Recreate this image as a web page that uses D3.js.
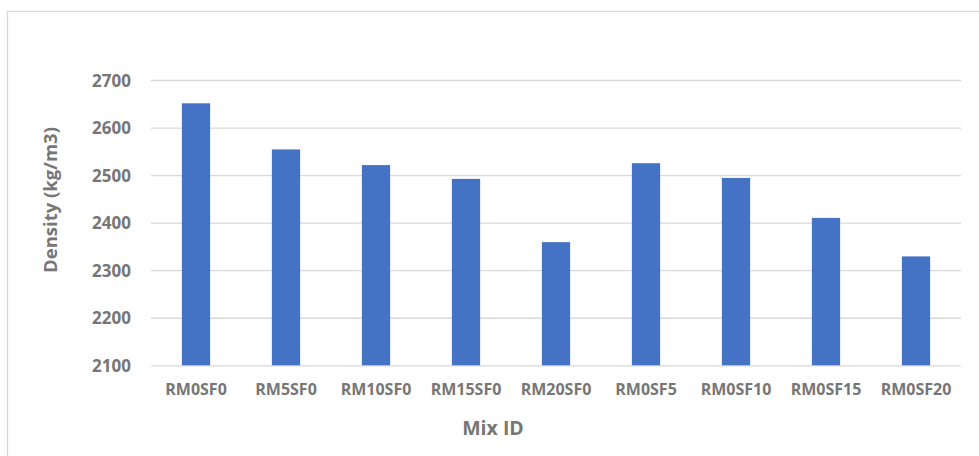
<!DOCTYPE html>
<html>
<head>
<meta charset="utf-8">
<script src="https://cdn.jsdelivr.net/npm/d3@7"></script>
<style>
  html, body { margin: 0; padding: 0; background: #fff; }
  svg { display: block; }
  text { font-family: "Open Sans", sans-serif; font-weight: bold; fill: #767676; }
</style>
</head>
<body>
<svg id="chart" width="979" height="456"></svg>
<script>
const categories = ["RM0SF0", "RM5SF0", "RM10SF0", "RM15SF0", "RM20SF0", "RM0SF5", "RM0SF10", "RM0SF15", "RM0SF20"];
const densities = [2651, 2554, 2521, 2492, 2359, 2525, 2494, 2410, 2329];
const yTicks = [2100, 2200, 2300, 2400, 2500, 2600, 2700];
const yTitle = "Density (kg/m3)";
const xTitle = "Mix ID";

const svg = d3.select("#chart");

// chart border
svg.append("rect")
  .attr("x", 7.5).attr("y", 11.5)
  .attr("width", 1100).attr("height", 600)
  .attr("fill", "none").attr("stroke", "#d9d9d9").attr("stroke-width", 1.3);

const plot = { left: 151, right: 961, top: 80, bottom: 365.3 };

const x = d3.scaleBand()
  .domain(categories)
  .range([plot.left, plot.right])
  .paddingInner(0.686)
  .paddingOuter(0.343);

const y = d3.scaleLinear()
  .domain([2100, 2700])
  .range([plot.bottom, plot.top]);

// gridlines
const yAxisGrid = d3.axisLeft(y)
  .tickValues(yTicks)
  .tickSize(-(plot.right - plot.left))
  .tickFormat("");
const grid = svg.append("g")
  .attr("transform", `translate(${plot.left},0)`)
  .call(yAxisGrid);
grid.select(".domain").remove();
grid.selectAll("line").attr("stroke", "#d9d9d9").attr("stroke-width", 1.3);

// bars
svg.append("g").selectAll("rect")
  .data(categories.map((c, i) => ({ c, v: densities[i] })))
  .join("rect")
  .attr("x", d => x(d.c))
  .attr("width", x.bandwidth())
  .attr("y", d => y(d.v))
  .attr("height", d => y(2100) - y(d.v))
  .attr("fill", "#4472c4");

// y tick labels
const yAxis = d3.axisLeft(y)
  .tickValues(yTicks)
  .tickSize(0)
  .tickPadding(20)
  .tickFormat(d3.format("d"));
const ya = svg.append("g")
  .attr("transform", `translate(${plot.left},0)`)
  .call(yAxis);
ya.select(".domain").remove();
ya.selectAll("text")
  .style("font-size", "17px")
  .attr("dy", "0.36em")
  .attr("fill", "#767676");

// x tick labels
const xAxis = d3.axisBottom(x).tickSize(0).tickPadding(18);
const xa = svg.append("g")
  .attr("transform", `translate(0,${plot.bottom})`)
  .call(xAxis);
xa.select(".domain").remove();
xa.selectAll("text")
  .style("font-size", "16px")
  .attr("fill", "#767676");

// axis titles
svg.append("text")
  .attr("transform", "translate(57,200) rotate(-90)")
  .attr("text-anchor", "middle")
  .style("font-size", "18.5px")
  .text(yTitle);

svg.append("text")
  .attr("x", 493).attr("y", 435)
  .attr("text-anchor", "middle")
  .style("font-size", "19.5px")
  .text(xTitle);
</script>
</body>
</html>
